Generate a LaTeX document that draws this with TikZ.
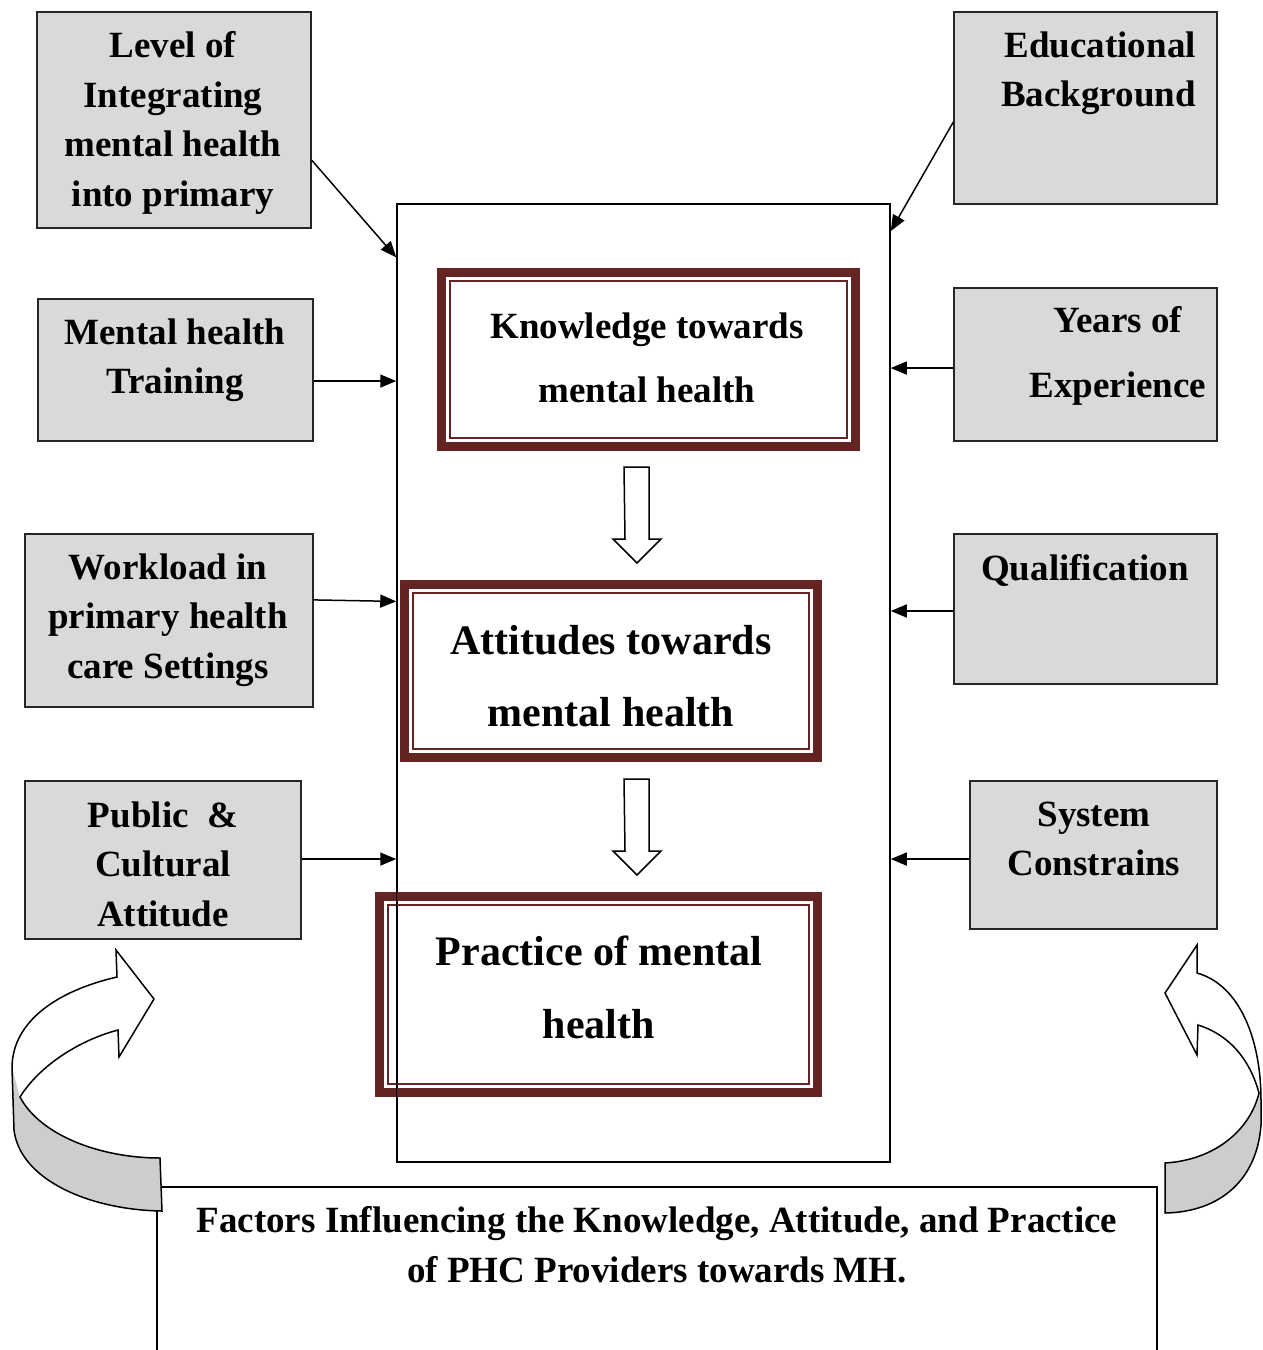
\documentclass[tikz,border=0pt]{standalone}
\usepackage{fontspec}
\setmainfont{Liberation Serif}
\usetikzlibrary{arrows.meta,calc}
\definecolor{boxgrey}{RGB}{217,217,217}
\definecolor{ribbon}{RGB}{205,205,205}
\definecolor{maroon}{RGB}{99,36,35}
\begin{document}
\begin{tikzpicture}[x=1pt,y=-1pt,
  gbox/.style={draw=black!85,fill=boxgrey,line width=1.5pt,inner sep=0pt},
  kapbox/.style={draw=maroon,line width=9pt,inner sep=0pt,outer sep=0pt},
  kapinner/.style={draw=maroon,line width=2pt},
  frm/.style={draw=black,line width=1.5pt,inner sep=0pt},
  lbl/.style={inner sep=0pt,align=center,anchor=north,font=\bfseries\fontsize{37}{49.5}\selectfont},
  bigl/.style={inner sep=0pt,align=center,anchor=north,font=\bfseries\fontsize{42}{72}\selectfont},
  conn/.style={line width=1.5pt,-{Triangle[length=16pt,width=13pt]}},
  hollow/.style={draw=black,fill=white,line width=1.5pt,line join=miter},
  ribbonline/.style={draw=black,line width=1.5pt,line join=miter}]

\clip (0,0) rectangle (1263,1350);
\fill[white] (0,0) rectangle (1263,1350);

% factor boxes on the left
\node[gbox,minimum width=274pt,minimum height=216pt] (lvl) at (174,120) {};
\node[gbox,minimum width=275pt,minimum height=142pt] (mht) at (175.5,370) {};
\node[gbox,minimum width=288pt,minimum height=173pt] (wrk) at (169,620.5) {};
\node[gbox,minimum width=276pt,minimum height=158pt] (pub) at (163,860) {};

% factor boxes on the right
\node[gbox,minimum width=263pt,minimum height=192pt] (edu) at (1085.5,108) {};
\node[gbox,minimum width=263pt,minimum height=153pt] (yrs) at (1085.5,364.5) {};
\node[gbox,minimum width=263pt,minimum height=150pt] (qul) at (1085.5,609) {};
\node[gbox,minimum width=247pt,minimum height=148pt] (sys) at (1093.5,855) {};

% labels of the factor boxes
\node[lbl] (lvlT) at (173,31.5) {Level of\\Integrating\\mental health\\into primary};
\node[lbl] (mhtT) at (175,318.5) {Mental health\\Training};
\node[lbl] (wrkT) at (168,553.5) {Workload in\\primary health\\care Settings};
\node[lbl] (pubT) at (163,801.5) {Public\ \ \&\\Cultural\\Attitude};
\node[lbl,align=right,anchor=north east] (eduT) at (1196,31.5) {Educational\\Background};
\node[lbl,font=\bfseries\fontsize{37}{65}\selectfont] (yrsT) at (1118,306.5) {Years of\\Experience};
\node[lbl] (qulT) at (1085,554.5) {Qualification};
\node[lbl] (sysT) at (1094,801.5) {System\\Constrains};

% central frame
\node[frm,minimum width=493pt,minimum height=958pt] (frame) at (643.5,683) {};

% knowledge, attitude and practice boxes: thick outer band, thin inner line
\node[kapbox,minimum width=414pt,minimum height=174pt] (know) at (648.5,359.5) {};
\node[kapbox,minimum width=413pt,minimum height=173pt] (att) at (611,671) {};
\node[kapbox,minimum width=438pt,minimum height=196pt] (prac) at (598.5,994.5) {};
\draw[kapinner] ($(know.north west)+(8.5,8.5)$) rectangle ($(know.south east)+(-8.5,-8.5)$);
\draw[kapinner] ($(att.north west)+(8.5,8.5)$) rectangle ($(att.south east)+(-8.5,-8.5)$);
\draw[kapinner] ($(prac.north west)+(8.5,8.5)$) rectangle ($(prac.south east)+(-8.5,-8.5)$);
\draw[frm] (frame.north west) -- (frame.south west);

\node[lbl,font=\bfseries\fontsize{37}{64}\selectfont] (knowT) at (647,312.5) {Knowledge towards\\mental health};
\node[bigl] (attT) at (611,625) {Attitudes towards\\mental health};
\node[bigl,font=\bfseries\fontsize{42}{73}\selectfont] (pracT) at (599,936) {Practice of mental\\health};

% hollow arrows between the stages
\coordinate (a1) at ($(know.south)+(-24.5,20.5)$);
\coordinate (a2) at ($(att.south)+(13,21.5)$);
\draw[hollow] (a1) -- ++(25,0) -- ++(0,72) -- ++(12,0) -- ++(-24,24) -- ++(-24,-24) -- ++(12,0) -- cycle;
\draw[hollow] (a2) -- ++(25,0) -- ++(0,72) -- ++(12,0) -- ++(-24,24) -- ++(-24,-24) -- ++(12,0) -- cycle;

% connectors from the factors to the frame
\coordinate (mhtE) at ($(mht.north east)!0.577!(mht.south east)$);
\coordinate (wrkE) at ($(wrk.north east)!0.382!(wrk.south east)$);
\coordinate (pubE) at ($(pub.north east)!0.494!(pub.south east)$);
\coordinate (yrsW) at ($(yrs.north west)!0.523!(yrs.south west)$);
\coordinate (qulW) at ($(qul.north west)!0.513!(qul.south west)$);
\coordinate (sysW) at ($(sys.north west)!0.527!(sys.south west)$);
\draw[conn] ($(lvl.north east)!0.685!(lvl.south east)$) -- ($(frame.north west)!0.0564!(frame.south west)$);
\draw[conn] ($(edu.north west)!0.573!(edu.south west)$) -- ($(frame.north east)!0.029!(frame.south east)$);
\draw[conn] (mhtE) -- (mhtE -| frame.west);
\draw[conn] (wrkE) -- ([yshift=-1.5pt]wrkE -| frame.west);
\draw[conn] (pubE) -- (pubE -| frame.west);
\draw[conn] (yrsW) -- (yrsW -| frame.east);
\draw[conn] (qulW) -- (qulW -| frame.east);
\draw[conn] (sysW) -- (sysW -| frame.east);

% caption box, open at the bottom
\node[frm,minimum width=1000pt,minimum height=213pt] (cap) at (657,1293.5) {};
\node[lbl,font=\bfseries\fontsize{37}{50}\selectfont] (capT) at (657,1206.5)
  {Factors Influencing the Knowledge, Attitude, and Practice\\of PHC Providers towards MH.};

% curved arrow on the left
\fill[ribbon] (12,1068) -- (14,1130) .. controls (20,1180) and (90,1210) .. (162,1211)
  -- (160,1158) .. controls (100,1158) and (40,1135) .. (20,1097) -- cycle;
\draw[ribbonline] (20,1097) .. controls (40,1065) and (80,1040) .. (118,1030)
  -- (119,1057) -- (154,999) -- (116,950) -- (117,977)
  .. controls (60,990) and (12,1020) .. (12,1068) -- (14,1130)
  .. controls (20,1180) and (90,1210) .. (162,1211) -- (160,1158)
  .. controls (100,1158) and (40,1135) .. (20,1097) -- cycle;

% curved arrow on the right
\fill[ribbon] (1261,1100) -- (1261,1125) .. controls (1257,1180) and (1220,1212) .. (1165,1213)
  -- (1165,1163) .. controls (1215,1160) and (1250,1130) .. (1259,1093) -- cycle;
\draw[ribbonline] (1259,1093) .. controls (1250,1060) and (1230,1035) .. (1198,1025)
  -- (1197,1055) -- (1165,993) -- (1197,945) -- (1197,973)
  .. controls (1240,985) and (1261,1040) .. (1261,1100) -- (1261,1125)
  .. controls (1257,1180) and (1220,1212) .. (1165,1213) -- (1165,1163)
  .. controls (1215,1160) and (1250,1130) .. (1259,1093) -- cycle;
\end{tikzpicture}
\end{document}
